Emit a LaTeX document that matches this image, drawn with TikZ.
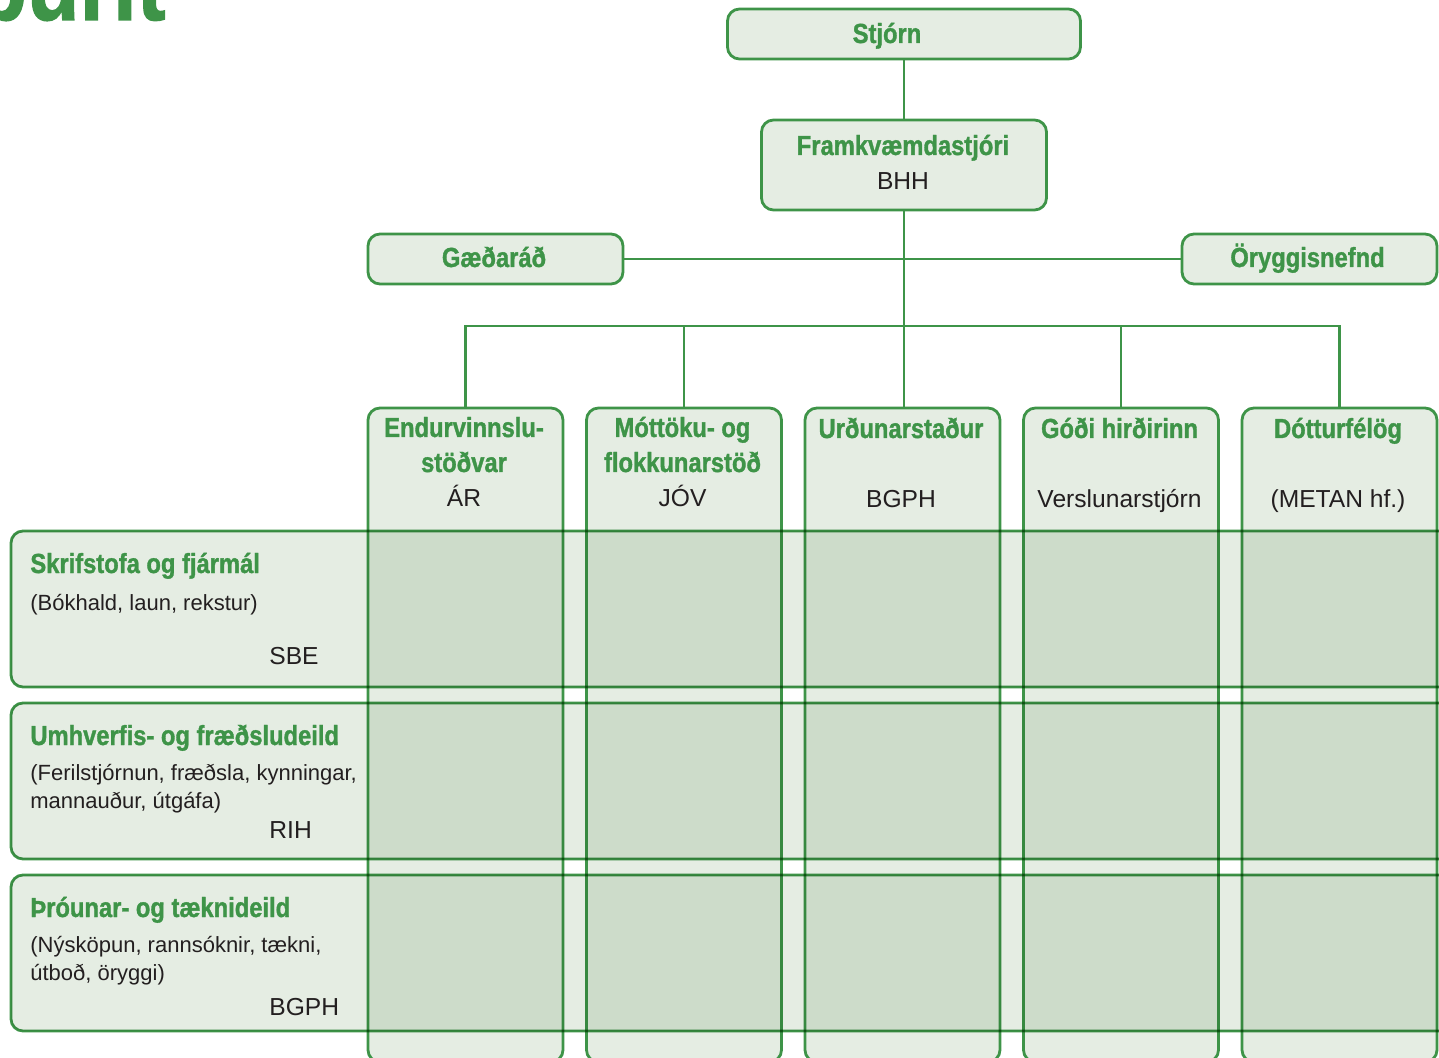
\documentclass[tikz,border=0pt]{standalone}
\usepackage{fontspec}
\setmainfont{Liberation Sans}
\newfontfamily\condfont[FakeStretch=0.86,FakeBold=1.2]{Liberation Sans}
\usepackage{tikz}
\definecolor{orggreen}{RGB}{62,148,72}
\definecolor{orglight}{RGB}{229,237,227}
\definecolor{orgtext}{RGB}{35,31,32}

\begin{document}
\begin{tikzpicture}[x=0.5pt,y=-0.5pt,
  box/.style={draw=orggreen, line width=1.4pt, fill=orglight, rounded corners=6pt, inner sep=0pt},
  head/.style={text=orggreen, font=\condfont\bfseries\fontsize{13.8}{17}\selectfont, inner sep=0pt},
  initials/.style={text=orgtext, font=\fontsize{12.3}{14}\selectfont, inner sep=0pt},
  remark/.style={text=orgtext, font=\fontsize{11}{14}\selectfont, inner sep=0pt, anchor=base west},
  link/.style={draw=orggreen, line width=1.4pt}]
\useasboundingbox (0,0) rectangle (1439,1058);
\clip (0,0) rectangle (1439,1058);

\node [text=orggreen, font=\condfont\bfseries\fontsize{50}{50}\selectfont, anchor=base east, inner sep=0pt] (title) at (166,20) {Skipurit};

% top of the chart
\node [box, minimum width=176.5pt, minimum height=25pt] (stjorn) at (904,34) {};
\node [head, anchor=base] (stjornt) at (887,43) {Stjórn};
\node [box, minimum width=142.5pt, minimum height=45pt] (framkv) at (904,165) {};
\node [head, anchor=base] (framkvt) at (903,155) {Framkvæmdastjóri};
\node [initials, anchor=base] (framkvn) at (903,190) {BHH};
\node [box, minimum width=127.5pt, minimum height=25pt] (gaedarad) at (495.5,259) {};
\node [head, anchor=base] (gaedaradt) at (494,267) {Gæðaráð};
\node [box, minimum width=127.5pt, minimum height=25pt] (oryggi) at (1309.5,259) {};
\node [head, anchor=base] (oryggit) at (1307.5,267) {Öryggisnefnd};

% columns
\node [box, minimum width=97.5pt, minimum height=327pt] (c1) at (465.5,735) {};
\node [box, minimum width=97.5pt, minimum height=327pt] (c2) at (684,735) {};
\node [box, minimum width=97.5pt, minimum height=327pt] (c3) at (902.5,735) {};
\node [box, minimum width=97.5pt, minimum height=327pt] (c4) at (1121,735) {};
\node [box, minimum width=97.5pt, minimum height=327pt] (c5) at (1339.5,735) {};

\node [head, anchor=base] (c1a) at (464,437) {Endurvinnslu-};
\node [head, anchor=base] (c1b) at (464,472) {stöðvar};
\node [initials, anchor=base] (c1n) at (464,507) {ÁR};
\node [head, anchor=base] (c2a) at (682.5,437) {Móttöku- og};
\node [head, anchor=base] (c2b) at (682.5,472) {flokkunarstöð};
\node [initials, anchor=base] (c2n) at (682.5,507) {JÓV};
\node [head, anchor=base] (c3a) at (901,438) {Urðunarstaður};
\node [initials, anchor=base] (c3n) at (901,508) {BGPH};
\node [head, anchor=base] (c4a) at (1119.5,438) {Góði hirðirinn};
\node [initials, anchor=base] (c4n) at (1119.5,508) {Verslunarstjórn};
\node [head, anchor=base] (c5a) at (1338,438) {Dótturfélög};
\node [initials, anchor=base] (c5n) at (1338,508) {(METAN hf.)};

% rows
\begin{scope}[blend mode=multiply]
\node [box, minimum width=729.5pt, minimum height=78pt] (r1) at (740.5,609) {};
\node [box, minimum width=729.5pt, minimum height=78pt] (r2) at (740.5,781) {};
\node [box, minimum width=729.5pt, minimum height=78pt] (r3) at (740.5,953) {};
\end{scope}

\node [head, anchor=base west] (r1a) at (30,573) {Skrifstofa og fjármál};
\node [remark] (r1b) at (30,610) {(Bókhald, laun, rekstur)};
\node [initials, anchor=base west] (r1n) at (269,664) {SBE};
\node [head, anchor=base west] (r2a) at (30,745) {Umhverfis- og fræðsludeild};
\node [remark] (r2b) at (30,780) {(Ferilstjórnun, fræðsla, kynningar,};
\node [remark] (r2c) at (30,808) {mannauður, útgáfa)};
\node [initials, anchor=base west] (r2n) at (269,838) {RIH};
\node [head, anchor=base west] (r3a) at (30,917) {Þróunar- og tæknideild};
\node [remark] (r3b) at (30,952) {(Nýsköpun, rannsóknir, tækni,};
\node [remark] (r3c) at (30,980) {útboð, öryggi)};
\node [initials, anchor=base west] (r3n) at (269,1015) {BGPH};

% connectors
\coordinate (bus) at (904,326);
\draw [link] (stjorn) -- (framkv);
\draw [link] (gaedarad) -- (oryggi);
\draw [link] (framkv.south) -- (framkv.south |- c3.north);
\draw [link] (c1.north) |- (bus) -| (c5.north);
\draw [link] (c2.north) -- (c2.north |- bus);
\draw [link] (c4.north) -- (c4.north |- bus);
\end{tikzpicture}
\end{document}
